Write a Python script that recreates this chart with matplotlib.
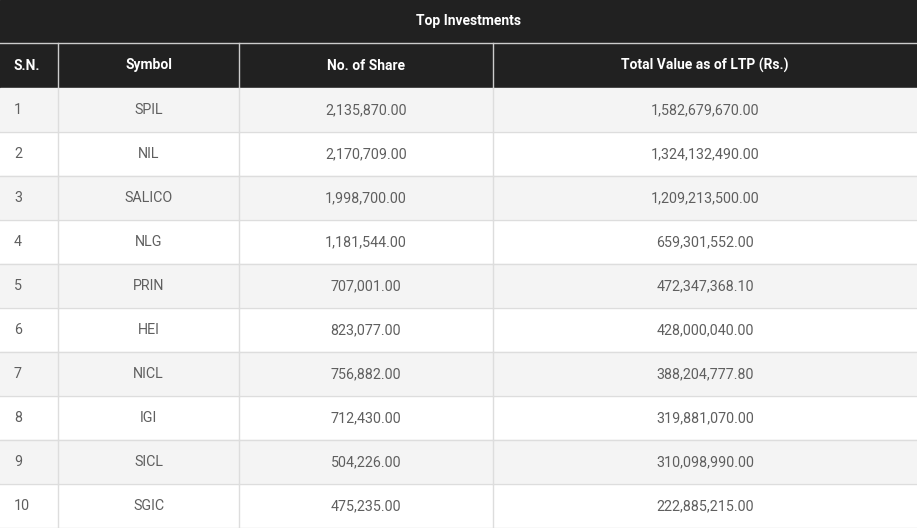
import matplotlib.pyplot as plt
from matplotlib.patches import Rectangle

plt.rcParams["font.family"] = ["Roboto", "DejaVu Sans"]

title = "Top Investments"
headers = ["S.N.", "Symbol", "No. of Share", "Total Value as of LTP (Rs.)"]
serial = ["1", "2", "3", "4", "5", "6", "7", "8", "9", "10"]
symbols = ["SPIL", "NIL", "SALICO", "NLG", "PRIN", "HEI", "NICL", "IGI", "SICL", "SGIC"]
shares = ["2,135,870.00", "2,170,709.00", "1,998,700.00", "1,181,544.00", "707,001.00",
          "823,077.00", "756,882.00", "712,430.00", "504,226.00", "475,235.00"]
values = ["1,582,679,670.00", "1,324,132,490.00", "1,209,213,500.00", "659,301,552.00",
          "472,347,368.10", "428,000,040.00", "388,204,777.80", "319,881,070.00",
          "310,098,990.00", "222,885,215.00"]

W, H = 917, 528
col_edges = [0, 58, 239, 493, 917]
title_h, head_h = 43, 45
row_h = (H - title_h - head_h) / len(serial)
dark = "#212121"
text_c = "#5f5f5f"
line_c = "#dddddd"

fig = plt.figure(figsize=(W / 100, H / 100), dpi=100)
ax = fig.add_axes([0, 0, 1, 1])
ax.set_xlim(0, W)
ax.set_ylim(H, 0)
ax.axis("off")

# title bar
ax.add_patch(Rectangle((0, 0), W, title_h, color=dark))
ax.text(468, title_h / 2 - 1, title, color="white", fontsize=10, fontweight="bold",
        ha="center", va="center")
ax.plot([0, W], [title_h, title_h], color="#cccccc", lw=1)

# header row
ax.add_patch(Rectangle((0, title_h), W, head_h, color=dark))
for i, h in enumerate(headers):
    x0, x1 = col_edges[i], col_edges[i + 1]
    if i > 0:
        ax.plot([x0, x0], [title_h, title_h + head_h], color="#cccccc", lw=1)
    xt = 14 if i == 0 else (x0 + x1) / 2
    ax.text(xt, title_h + head_h / 2, h, color="white", fontsize=10, fontweight="bold",
            ha="left" if i == 0 else "center", va="center")

# data rows
for r in range(len(serial)):
    y0 = title_h + head_h + r * row_h
    ax.add_patch(Rectangle((0, y0), W, row_h, color="#f4f4f4" if r % 2 == 0 else "white"))
    ax.plot([0, W], [y0 + row_h, y0 + row_h], color=line_c, lw=1)
    cells = [serial[r], symbols[r], shares[r], values[r]]
    for i, c in enumerate(cells):
        x0, x1 = col_edges[i], col_edges[i + 1]
        if i > 0:
            ax.plot([x0, x0], [y0, y0 + row_h], color=line_c, lw=1)
        xt = 14 if i == 0 else (x0 + x1) / 2
        ax.text(xt, y0 + row_h / 2, c, color=text_c, fontsize=10.3,
                ha="left" if i == 0 else "center", va="center")

fig.savefig("out.png", dpi=100)
